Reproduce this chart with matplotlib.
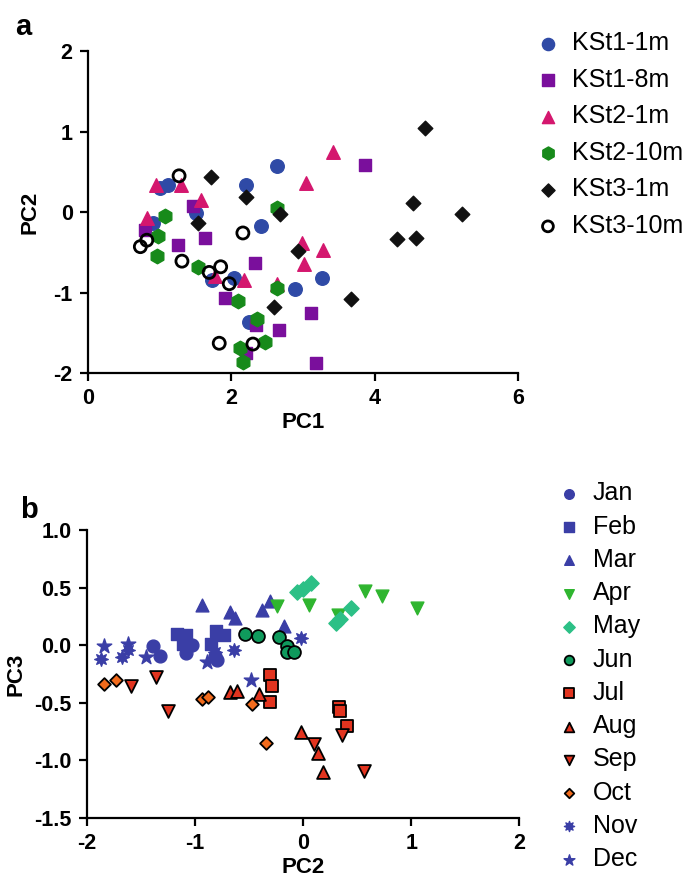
import numpy as np
import matplotlib
matplotlib.use('Agg')
import matplotlib.pyplot as plt

plt.rcParams['font.family'] = ['Liberation Sans', 'DejaVu Sans']
plt.rcParams['axes.unicode_minus'] = False

# ---- panel a: PC1 vs PC2 by station/depth ----
ksites = ['KSt1-1m', 'KSt1-8m', 'KSt2-1m', 'KSt2-10m', 'KSt3-1m', 'KSt3-10m']
kst1_1m_x = [1.00, 1.11, 0.91, 1.51, 2.21, 2.63, 2.41, 1.73, 2.04, 2.24, 2.88, 3.26]
kst1_1m_y = [0.30, 0.34, -0.13, -0.01, 0.33, 0.57, -0.17, -0.85, -0.82, -1.36, -0.95, -0.82]
kst1_8m_x = [1.46, 0.80, 1.26, 1.63, 2.33, 1.91, 2.34, 2.20, 2.67, 3.11, 3.18, 3.86]
kst1_8m_y = [0.07, -0.22, -0.41, -0.32, -0.63, -1.07, -1.40, -1.75, -1.47, -1.26, -1.88, 0.59]
kst2_1m_x = [0.95, 1.30, 1.57, 0.82, 1.77, 2.18, 2.64, 3.41, 3.04, 2.99, 3.28, 3.01]
kst2_1m_y = [0.34, 0.34, 0.15, -0.08, -0.80, -0.84, -0.90, 0.75, 0.36, -0.39, -0.47, -0.65]
kst2_10m_x = [1.07, 0.97, 0.96, 1.54, 2.09, 2.35, 2.47, 2.12, 2.16, 2.64, 2.64]
kst2_10m_y = [-0.05, -0.30, -0.54, -0.68, -1.10, -1.33, -1.61, -1.69, -1.86, 0.05, -0.94]
kst3_1m_x = [1.72, 2.20, 2.68, 1.53, 2.93, 3.67, 2.59, 4.70, 4.53, 5.22, 4.31, 4.58]
kst3_1m_y = [0.43, 0.19, -0.03, -0.14, -0.49, -1.08, -1.18, 1.05, 0.11, -0.02, -0.34, -0.32]
kst3_10m_x = [1.27, 0.73, 0.82, 1.31, 2.16, 1.69, 1.85, 1.97, 1.83, 2.30]
kst3_10m_y = [0.45, -0.43, -0.35, -0.61, -0.26, -0.75, -0.68, -0.89, -1.63, -1.64]

# ---- panel b: PC2 vs PC3 by month ----
months = ['Jan', 'Feb', 'Mar', 'Apr', 'May', 'Jun', 'Jul', 'Aug', 'Sep', 'Oct', 'Nov', 'Dec']
jan_x = [-1.39, -1.32, -1.08, -1.03, -0.82, -0.80]
jan_y = [-0.01, -0.09, -0.07, 0.00, -0.09, -0.13]
feb_x = [-1.17, -1.08, -1.11, -0.81, -0.73, -0.85]
feb_y = [0.10, 0.09, 0.01, 0.12, 0.09, 0.01]
mar_x = [-0.94, -0.68, -0.63, -0.38, -0.31, -0.18]
mar_y = [0.35, 0.29, 0.24, 0.31, 0.38, 0.17]
apr_x = [-0.24, 0.05, 0.32, 0.57, 0.73, 1.05]
apr_y = [0.34, 0.35, 0.26, 0.47, 0.43, 0.32]
may_x = [-0.06, 0.00, 0.07, 0.30, 0.34, 0.44]
may_y = [0.46, 0.49, 0.54, 0.19, 0.23, 0.32]
jun_x = [-0.54, -0.42, -0.22, -0.15, -0.15, -0.08]
jun_y = [0.10, 0.08, 0.07, -0.01, -0.06, -0.06]
jul_x = [-0.31, -0.29, -0.31, 0.33, 0.34, 0.41]
jul_y = [-0.26, -0.35, -0.49, -0.54, -0.57, -0.70]
aug_x = [-0.68, -0.61, -0.41, -0.02, 0.14, 0.18]
aug_y = [-0.41, -0.40, -0.42, -0.75, -0.94, -1.10]
sep_x = [-1.59, -1.36, -1.25, 0.10, 0.36, 0.56]
sep_y = [-0.35, -0.28, -0.57, -0.86, -0.78, -1.09]
oct_x = [-1.84, -1.73, -0.94, -0.88, -0.47, -0.34]
oct_y = [-0.34, -0.30, -0.47, -0.45, -0.51, -0.85]
nov_x = [-1.87, -1.68, -1.62, -0.82, -0.64, -0.02]
nov_y = [-0.12, -0.10, -0.04, -0.06, -0.04, 0.06]
dec_x = [-1.84, -1.62, -1.45, -0.89, -0.48]
dec_y = [-0.01, 0.01, -0.10, -0.15, -0.30]

fig = plt.figure(figsize=(6.85, 8.85), dpi=100)
ax1 = fig.add_axes([0.1285, 0.5785, 0.628, 0.3638])
ax2 = fig.add_axes([0.127, 0.0757, 0.631, 0.3254])

def style(ax):
    for s in ['top', 'right']:
        ax.spines[s].set_visible(False)
    for s in ['left', 'bottom']:
        ax.spines[s].set_linewidth(1.6)
    ax.tick_params(direction='out', length=6, width=1.6, labelsize=15.5, pad=5)
    for lab in ax.get_xticklabels() + ax.get_yticklabels():
        lab.set_fontweight('bold')

# panel a
blue = '#2f4aa6'
purple = '#7a0f9c'
pink = '#d4176e'
green = '#178a1a'
ax1.scatter(kst1_1m_x, kst1_1m_y, s=95, marker='o', c=blue, label=ksites[0], clip_on=False)
ax1.scatter(kst1_8m_x, kst1_8m_y, s=85, marker='s', c=purple, label=ksites[1], clip_on=False)
ax1.scatter(kst2_1m_x, kst2_1m_y, s=95, marker='^', c=pink, label=ksites[2], clip_on=False)
ax1.scatter(kst2_10m_x, kst2_10m_y, s=110, marker='h', c=green, label=ksites[3], clip_on=False)
ax1.scatter(kst3_1m_x, kst3_1m_y, s=55, marker='D', c='#111111', label=ksites[4], clip_on=False)
ax1.scatter(kst3_10m_x, kst3_10m_y, s=75, marker='o', facecolors='none', edgecolors='black',
            linewidths=2.0, label=ksites[5], clip_on=False)
ax1.set_xlim(0, 6)
ax1.set_ylim(-2, 2)
ax1.set_xticks([0, 2, 4, 6])
ax1.set_yticks([-2, -1, 0, 1, 2])
style(ax1)
ax1.set_xlabel('PC1', fontsize=16, fontweight='bold', labelpad=2)
ax1.set_ylabel('PC2', fontsize=16, fontweight='bold', labelpad=9)
ax1.legend(loc='upper left', bbox_to_anchor=(0.778, 0.9645), bbox_transform=fig.transFigure,
           frameon=False, fontsize=18, handlelength=1.2, handletextpad=0.35, labelspacing=0.5,
           borderpad=0, borderaxespad=0, markerscale=0.9, scatterpoints=1)

# panel b
mblue = '#3a3ea6'
mgreen = '#2fb52f'
mteal = '#2cc086'
mjun = '#0f9a5c'
mred = '#e2341f'
morange = '#f26b1c'
ek = dict(edgecolors='black', linewidths=1.3, clip_on=False)
ax2.scatter(jan_x, jan_y, s=85, marker='o', c=mblue, label=months[0], clip_on=False)
ax2.scatter(feb_x, feb_y, s=80, marker='s', c=mblue, label=months[1], clip_on=False)
ax2.scatter(mar_x, mar_y, s=85, marker='^', c=mblue, label=months[2], clip_on=False)
ax2.scatter(apr_x, apr_y, s=85, marker='v', c=mgreen, label=months[3], clip_on=False)
ax2.scatter(may_x, may_y, s=60, marker='D', c=mteal, label=months[4], clip_on=False)
ax2.scatter(jun_x, jun_y, s=85, marker='o', c=mjun, label=months[5], **ek)
ax2.scatter(jul_x, jul_y, s=80, marker='s', c=mred, label=months[6], **ek)
ax2.scatter(aug_x, aug_y, s=85, marker='^', c=mred, label=months[7], **ek)
ax2.scatter(sep_x, sep_y, s=85, marker='v', c=mred, label=months[8], **ek)
ax2.scatter(oct_x, oct_y, s=42, marker='D', c=morange, label=months[9], **ek)
ax2.scatter(nov_x, nov_y, s=95, marker=(8, 1, 0), c=mblue, label=months[10], clip_on=False)
ax2.scatter(dec_x, dec_y, s=120, marker='*', c=mblue, label=months[11], clip_on=False)
ax2.set_xlim(-2, 2)
ax2.set_ylim(-1.5, 1.0)
ax2.set_xticks([-2, -1, 0, 1, 2])
ax2.set_yticks([-1.5, -1.0, -0.5, 0.0, 0.5, 1.0])
ax2.set_yticklabels(['%.1f' % v for v in [-1.5, -1.0, -0.5, 0.0, 0.5, 1.0]])
style(ax2)
ax2.set_xlabel('PC2', fontsize=16, fontweight='bold', labelpad=2)
ax2.set_ylabel('PC3', fontsize=16, fontweight='bold', labelpad=6)
ax2.legend(loc='upper left', bbox_to_anchor=(0.809, 0.456), bbox_transform=fig.transFigure,
           frameon=False, fontsize=18, handlelength=1.2, handletextpad=0.35, labelspacing=0.37,
           borderpad=0, borderaxespad=0, markerscale=0.75, scatterpoints=1)

fig.text(0.022, 0.985, 'a', fontsize=21, fontweight='bold', va='top')
fig.text(0.03, 0.44, 'b', fontsize=21, fontweight='bold', va='top')

fig.savefig('out.png', dpi=100)
